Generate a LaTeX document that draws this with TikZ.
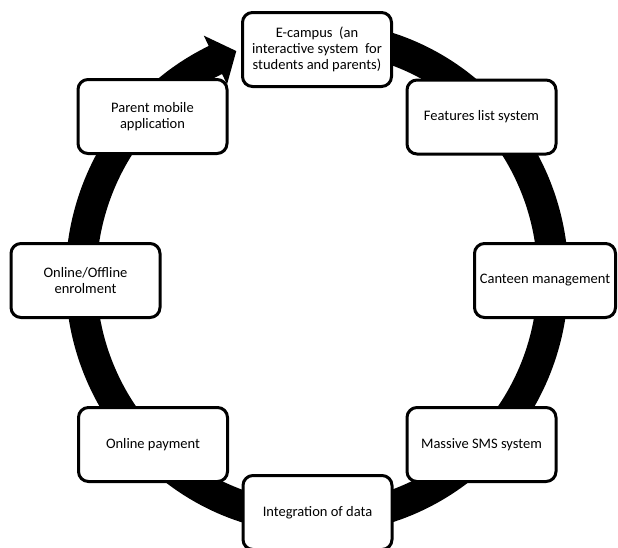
\documentclass[tikz,border=0pt]{standalone}
\usepackage{fontspec}
\setmainfont{Carlito}
\usetikzlibrary{positioning}
\tikzset{
        x=1pt, y=-1pt, % one unit per pixel, y going down
        stage/.style={draw, fill=white, line width=3pt, rounded corners=10pt,
                minimum width=149pt, minimum height=74pt, align=center,
                font=\fontsize{14.5}{15.8}\selectfont},
        ring/.style={line width=31pt, black} % the big circular arrow
        }
\begin{document}
\begin{tikzpicture}
        \clip (0,0) rectangle (618,547);
        \coordinate (o) at (317,277.5);
        \begin{scope}[shift={(o)}]
        \draw[ring] (-88:236 and 241) arc[start angle=-88, end angle=245, x radius=236, y radius=241];
        \fill (244.5:263 and 268) -- (250:236 and 241) -- (244.5:209 and 214) -- cycle;
        \end{scope}
        \node[stage](ecamp) at (317,49.5){E-campus\ \ (an\\interactive system\ \ for\\students and parents)};
        \node[stage](feat) at (481.5,117){Features list system};
        \node[stage, minimum width=141pt](cant) at (545,280.5){Canteen management};
        \node[stage](sms) at (481.5,444.5){Massive SMS system};
        \node[stage](integ) at (317.5,512.5){Integration of data};
        \node[stage](pay) at (153,444.5){Online payment};
        \node[stage](enrol) at (85.5,280.5){Online/Offline\\enrolment};
        \node[stage](parent) at (152.5,116.5){Parent mobile\\application};
\end{tikzpicture}
\end{document}
